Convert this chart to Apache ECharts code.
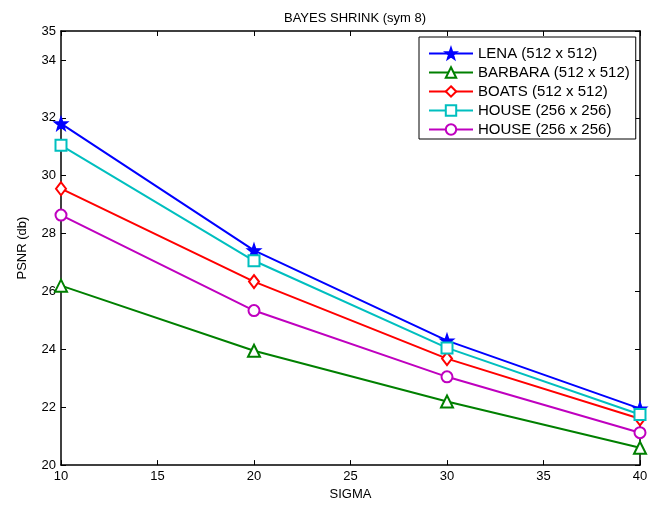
<!DOCTYPE html>
<html>
<head>
<meta charset="utf-8">
<script src="https://cdn.jsdelivr.net/npm/echarts@6/dist/echarts.min.js"></script>
<style>
  html, body { margin: 0; padding: 0; background: #fff; }
  #chart { width: 662px; height: 506px; }
</style>
</head>
<body>
<div id="chart"></div>
<script>
// values
var sigma = [10, 20, 30, 40];
var lena = [31.8, 27.42, 24.3, 21.95];
var barbara = [26.2, 23.95, 22.2, 20.6];
var boats = [29.55, 26.34, 23.68, 21.6];
var houseA = [31.05, 27.06, 24.05, 21.75];
var houseB = [28.64, 25.34, 23.05, 21.12];
var names = ['LENA (512 x 512)', 'BARBARA (512 x 512)', 'BOATS (512 x 512)', 'HOUSE (256 x 256)', 'HOUSE (256 x 256) '];

var star = 'path://M0,-10 L2.35,-3.24 L9.51,-3.09 L3.8,1.24 L5.88,8.09 L0,4 L-5.88,8.09 L-3.8,1.24 L-9.51,-3.09 L-2.35,-3.24 Z';
var font = 'Liberation Sans';

function pts(arr) {
    return sigma.map(function (s, i) { return [s, arr[i]]; });
}

function mkSeries(name, arr, color, symbol, size) {
    return {
        name: name,
        type: 'line',
        data: pts(arr),
        symbol: symbol,
        symbolSize: size,
        lineStyle: { color: color, width: 2 },
        itemStyle: { color: color, borderColor: color, borderWidth: 1.5 },
        emphasis: { disabled: true }
    };
}

var chart = echarts.init(document.getElementById('chart'));
var axisLine = { show: true, onZero: false, lineStyle: { color: '#000', width: 1.5 } };
var tick = { show: true, inside: true, length: 5, lineStyle: { color: '#000' } };

chart.setOption({
    animation: false,
    backgroundColor: '#fff',
    title: {
        text: 'BAYES SHRINK (sym 8)',
        left: 350, top: 7, textAlign: 'center',
        textStyle: { fontFamily: font, fontSize: 13, fontWeight: 'normal', color: '#000' }
    },
    legend: {
        orient: 'vertical',
        left: 419, top: 37,
        padding: [9, 6, 2, 9],
        itemWidth: 44, itemHeight: 13, itemGap: 4,
        backgroundColor: '#fff',
        borderColor: '#000', borderWidth: 1,
        data: names,
        textStyle: { fontFamily: font, fontSize: 15, color: '#000' }
    },
    grid: { left: 61, right: 22, top: 31, bottom: 38 },
    xAxis: [{
        type: 'value', position: 'bottom', min: 10, max: 40, interval: 5,
        name: 'SIGMA', nameLocation: 'middle', nameGap: 22,
        nameTextStyle: { fontFamily: font, fontSize: 13, color: '#000' },
        axisLine: axisLine, axisTick: tick, splitLine: { show: false },
        axisLabel: { fontFamily: font, fontSize: 13, color: '#000', margin: 5 }
    }, {
        type: 'value', position: 'top', min: 10, max: 40, interval: 5,
        axisLine: axisLine, axisTick: tick, splitLine: { show: false },
        axisLabel: { show: false }
    }],
    yAxis: [{
        type: 'value', position: 'left', min: 20, max: 35, interval: 2,
        name: 'PSNR (db)', nameLocation: 'middle', nameGap: 32,
        nameTextStyle: { fontFamily: font, fontSize: 13, color: '#000' },
        axisLine: axisLine, axisTick: tick, splitLine: { show: false },
        axisLabel: { fontFamily: font, fontSize: 13, color: '#000', margin: 5, showMaxLabel: true }
    }, {
        type: 'value', position: 'right', min: 20, max: 35, interval: 2,
        axisLine: axisLine, axisTick: tick, splitLine: { show: false },
        axisLabel: { show: false }
    }],
    series: [
        mkSeries(names[0], lena, '#0000ff', star, 13),
        mkSeries(names[1], barbara, '#008000', 'emptyTriangle', 12),
        mkSeries(names[2], boats, '#ff0000', 'emptyDiamond', [10, 13]),
        mkSeries(names[3], houseA, '#00bfbf', 'emptyRect', 11),
        mkSeries(names[4], houseB, '#bf00bf', 'emptyCircle', 11)
    ]
});
</script>
</body>
</html>
